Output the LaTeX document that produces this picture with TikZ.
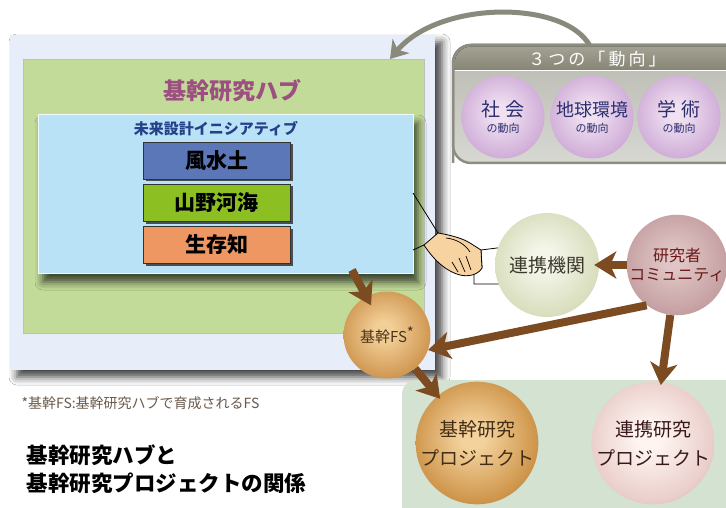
\documentclass[tikz,border=0pt]{standalone}
\usepackage{fontspec}
\newfontfamily\jp{Noto Sans CJK JP}
\newfontfamily\jpwide[LetterSpace=18]{Noto Sans CJK JP}
\usetikzlibrary{arrows.meta,shadows.blur,calc}

\definecolor{hubouter}{HTML}{E8EEF9}
\definecolor{hubgreen}{HTML}{C2DB98}
\definecolor{hubblue}{HTML}{B9E2F6}
\definecolor{hubtitle}{HTML}{9C4F80}
\definecolor{initext}{HTML}{25408A}
\definecolor{trendtext}{HTML}{2B2E6E}
\definecolor{fuudo}{HTML}{5B77B8}
\definecolor{sanya}{HTML}{8CBF21}
\definecolor{seizon}{HTML}{EE9762}
\definecolor{brownarrow}{HTML}{7C4B22}
\definecolor{grayarrow}{HTML}{8A8A7C}
\definecolor{bottombox}{HTML}{D4E2D1}
\definecolor{trendborder}{HTML}{8E8D82}
\definecolor{trendheadtop}{HTML}{A3A193}
\definecolor{trendheadbot}{HTML}{878574}
\definecolor{trendbodytop}{HTML}{B9B9B1}
\definecolor{trendbodybot}{HTML}{D7D8D2}
\definecolor{skin}{HTML}{F7D3A1}
\definecolor{notetext}{HTML}{6B5A4A}

% three-tone sphere shading, colours set per node
\colorlet{sphin}{white}\colorlet{sphmid}{gray}\colorlet{sphout}{black}
\pgfdeclareradialshading[sphin,sphmid,sphout]{sphere}{\pgfpoint{-2bp}{3bp}}{%
  color(0bp)=(sphin); color(5bp)=(sphin); color(25bp)=(sphmid);
  color(41bp)=(sphout); color(50bp)=(sphout)}

\tikzset{
  panel/.style={anchor=north west, inner sep=0pt, outer sep=0pt},
  areabox/.style={panel, draw=black!80, line width=0.6pt,
    minimum width=147pt, minimum height=37pt,
    font=\jp\bfseries\fontsize{21}{24}\selectfont, text=black,
    drop shadow={shadow xshift=2.5pt, shadow yshift=-2.5pt, fill=black!75, opacity=0.9}},
  spherecols/.style n args={3}{/utils/exec={%
    \definecolor{sphin}{HTML}{#1}\definecolor{sphmid}{HTML}{#2}\definecolor{sphout}{HTML}{#3}},
    shading=sphere},
  sphere/.style={circle, inner sep=0pt, align=center},
  trendball/.style={sphere, minimum size=83pt, spherecols={F0E0F1}{D1B0D9}{A97EB9},
    text=trendtext, font=\jp\fontsize{19}{16}\selectfont},
  brarrow/.style={draw=brownarrow, line width=8pt,
    -{Stealth[length=22pt,width=27pt,inset=6pt]}},
  grarrow/.style={draw=grayarrow, line width=5pt,
    -{Stealth[length=17pt,width=22pt,inset=5pt]}},
}

\begin{document}
\begin{tikzpicture}[x=1pt,y=-1pt,font=\jp]
\useasboundingbox (0,0) rectangle (726,508);
\fill[white] (0,0) rectangle (726,508);

% hub panels
\node[panel, fill=hubouter, minimum width=425pt, minimum height=335pt,
  blur shadow={shadow xshift=7pt, shadow yshift=-7pt, shadow blur radius=8pt, shadow opacity=75}]
  (hubpanel) at (10,35) {};
\node[panel, fill=hubgreen, draw=black!25, line width=1pt,
  minimum width=401pt, minimum height=273pt] (hubgreen) at (23,60) {};
\node[text=hubtitle, font=\jp\bfseries\fontsize{23}{26}\selectfont] (hubtitle) at (232,91) {基幹研究ハブ};
\node[panel, fill=hubblue, draw=white!80!hubblue, line width=0.6pt,
  minimum width=375pt, minimum height=159pt,
  blur shadow={shadow xshift=5pt, shadow yshift=-9pt, shadow blur radius=8pt, shadow opacity=70}]
  (initbox) at (38,114) {};
\node[text=initext, font=\jp\bfseries\fontsize{15}{18}\selectfont] (inititle) at (216,129) {未来設計イニシアティブ};
\node[areabox, fill=fuudo] (fuudo) at (143,142) {風水土};
\node[areabox, fill=sanya] (sanya) at (143,184) {山野河海};
\node[areabox, fill=seizon] (seizon) at (143,226) {生存知};

% three trends box
\node[panel, draw=trendborder, line width=2.5pt, rounded corners=18pt,
  top color=trendbodytop, bottom color=trendbodybot,
  minimum width=310pt, minimum height=118pt] (trends) at (453,45) {};
\fill[top color=trendheadtop, bottom color=trendheadbot]
  (454.5,70) [rounded corners=17pt] -- (454.5,46.5) -- (770,46.5) [sharp corners] -- (770,70) -- cycle;
\draw[white, line width=1.2pt] (454.5,70.5) -- (726,70.5);
\draw[trendborder, line width=2.5pt, rounded corners=18pt] (453,163) -- (453,45) -- (763,45);
\node[text=white, font=\jpwide\fontsize{17}{20}\selectfont] (trendtitle) at (597,59) {３つの「動向」};
\node[trendball] (society) at (503,117)
  {社 会\\{\fontsize{11}{16}\selectfont の動向}};
\node[trendball, font=\jp\fontsize{18}{16}\selectfont] (earth) at (592,117)
  {地球環境\\{\fontsize{11}{16}\selectfont の動向}};
\node[trendball] (academia) at (679,117)
  {学 術\\{\fontsize{11}{16}\selectfont の動向}};

% bottom project area
\node[panel, fill=bottombox, rounded corners=14pt,
  minimum width=340pt, minimum height=140pt] (projarea) at (402,380) {};

% handshake between the hub and partner institutions
\draw[black, line width=0.8pt] (413,193) -- (438,233);
\draw[black, line width=0.8pt] (413,250) -- (424,245);
\fill[white, draw=black, line width=0.8pt]
  (481,250) -- (505,247) -- (505,284) -- (474,284) -- (474,271) -- (482,268) -- cycle;
\fill[skin, draw=black, line width=0.8pt]
  (424,245) -- (438,233) .. controls (450,235) and (462,238) .. (470,243)
  -- (481,250) -- (482,268) .. controls (478,275) and (468,277) .. (460,275)
  .. controls (448,272) and (435,262) .. (424,245) -- cycle;
\draw[black, line width=0.7pt] (446,238) .. controls (456,239) and (465,244) .. (470,252);
\draw[black, line width=0.7pt] (452,262) -- (458,272);
\draw[black, line width=0.7pt] (459,258) -- (465,272);
\draw[black, line width=0.7pt] (466,256) -- (471,270);

% spheres
\node[sphere, minimum size=104pt, spherecols={F5F6EA}{D9DFBF}{BFC89B},
  text=black!75!olive, font=\jp\fontsize{19}{22}\selectfont] (partner) at (547,265) {連携機関};
\node[sphere, minimum size=100pt, spherecols={DFC5C5}{C6A1A3}{A97F82},
  text=red!40!black!80!gray, font=\jp\fontsize{16}{19}\selectfont] (community) at (677,265)
  {研究者\\コミュニティ};
\node[sphere, minimum size=87pt, spherecols={F3CF98}{D19A55}{94602A},
  text=brown!40!black, font=\jp\fontsize{15}{18}\selectfont] (corefs) at (387,335)
  {基幹FS\raisebox{4pt}{*}};
\node[sphere, minimum size=117pt, spherecols={F3D29C}{CF964C}{8A5823},
  text=brown!35!black, font=\jp\fontsize{19}{29}\selectfont] (coreproj) at (477,443)
  {基幹研究\\プロジェクト};
\node[sphere, minimum size=116pt, spherecols={FEF5F1}{EACECB}{BC9596},
  text=red!15!black!80!gray, font=\jp\fontsize{19}{29}\selectfont] (jointproj) at (653,443)
  {連携研究\\プロジェクト};

% connectors
\coordinate (hubout) at (352,270);
\draw[brarrow, shorten >=-10pt] (hubout) -- (corefs);
\draw[brarrow, shorten >=-5pt] (community) -- (partner);
\draw[brarrow] (community.233) -- (corefs.-20);
\draw[brarrow, shorten >=-3pt] (community) -- (jointproj);
\draw[brarrow, shorten >=-4pt] (corefs) -- (coreproj);
\coordinate (trendout) at (590,46);
\coordinate (hubin) at (390,59);
\draw[grarrow] (trendout) .. controls (565,0) and (440,0) .. (hubin);

% notes
\node[anchor=west, text=notetext, font=\jp\fontsize{14}{16}\selectfont] (note) at (18,403)
  {*基幹FS:基幹研究ハブで育成されるFS};
\node[anchor=north west, align=left, font=\jp\bfseries\fontsize{21.5}{28}\selectfont] (caption) at (23,441)
  {基幹研究ハブと\\基幹研究プロジェクトの関係};
\end{tikzpicture}
\end{document}
